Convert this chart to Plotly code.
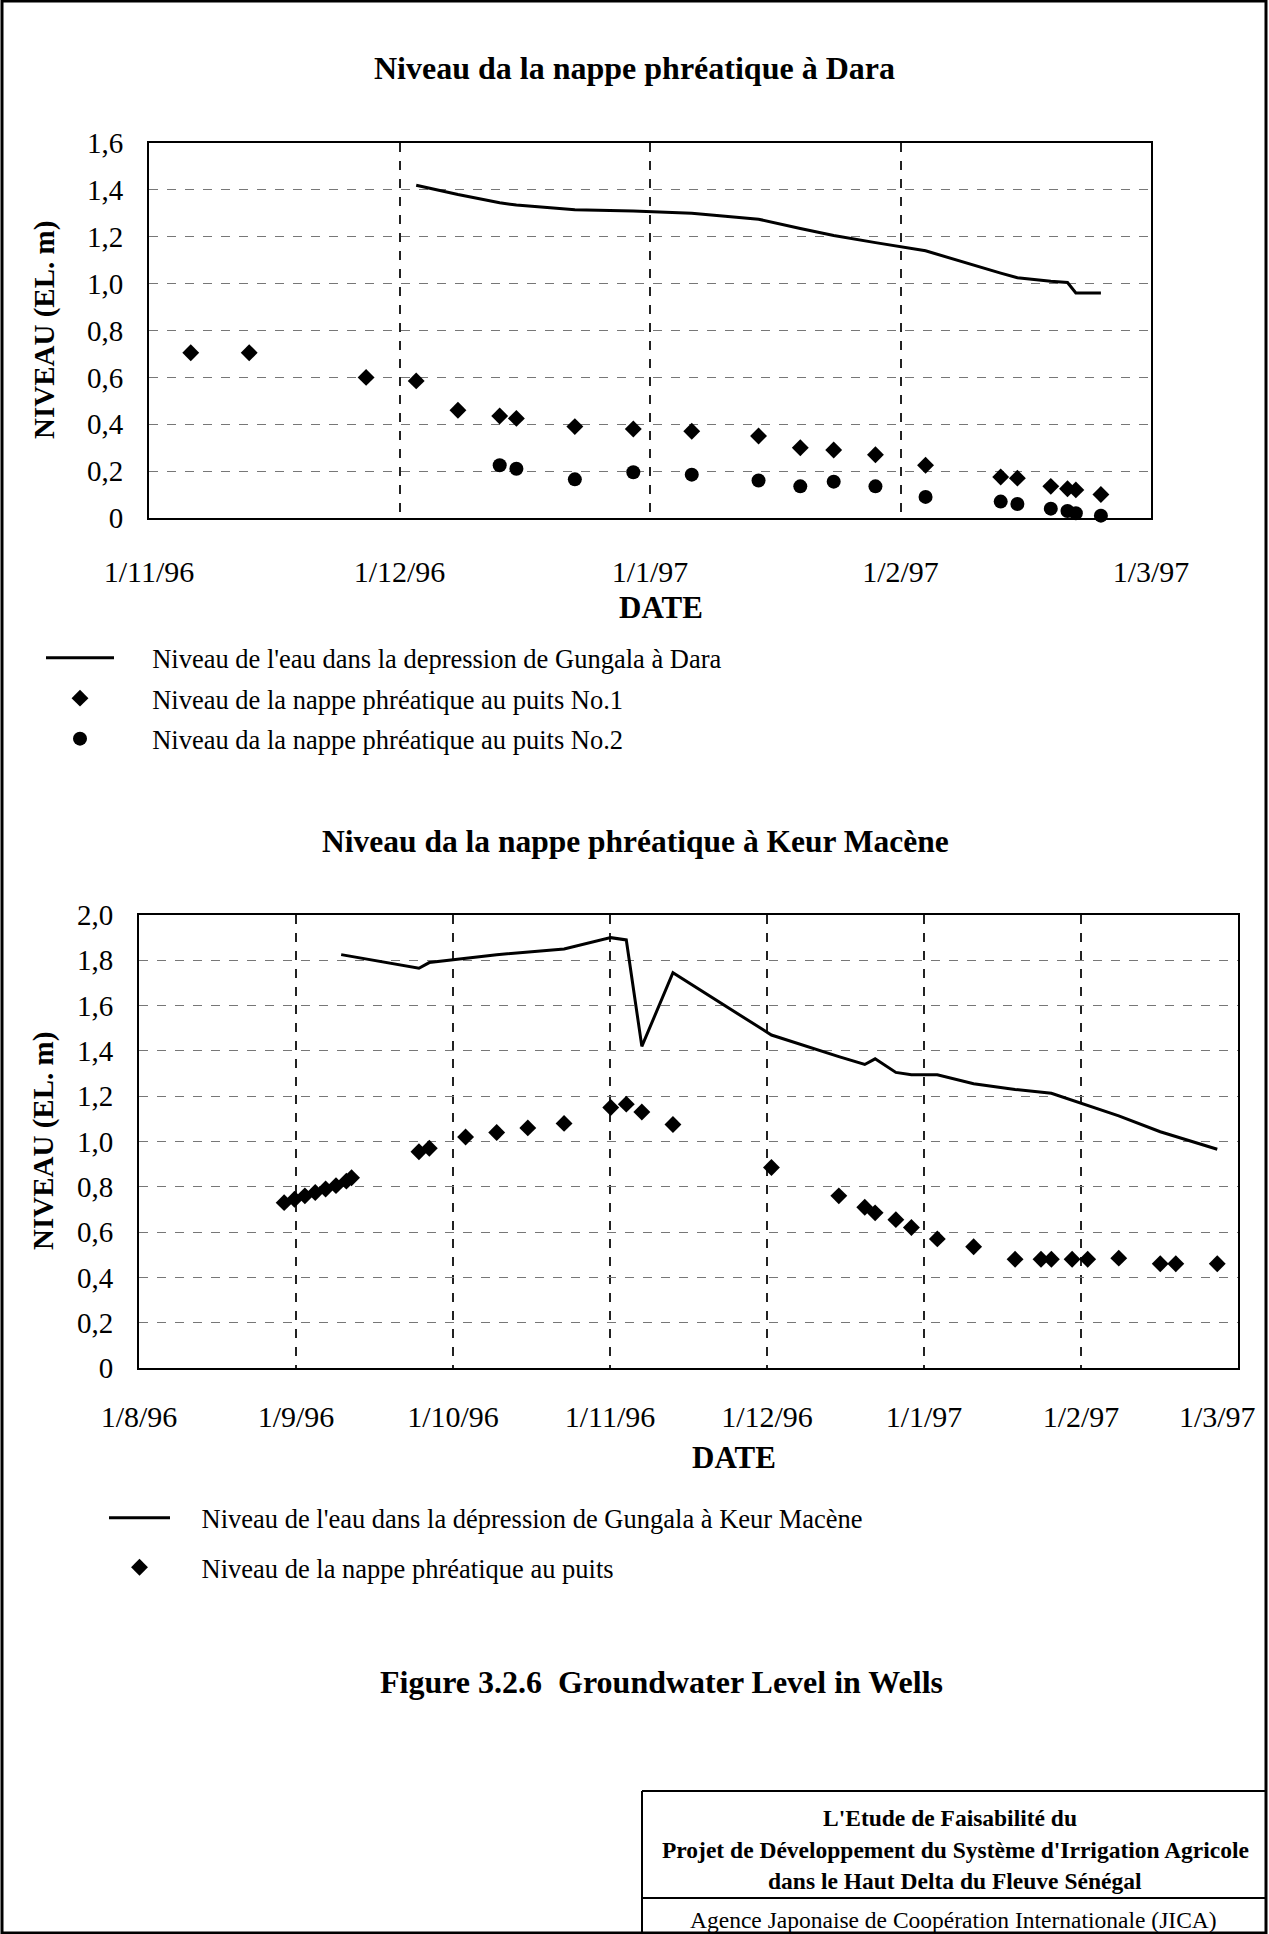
import plotly.graph_objects as go
import pandas as pd

# ---------------- data ----------------
# Dara
dara_line_dates = ["1996-12-03", "1996-12-08", "1996-12-13", "1996-12-15", "1996-12-22", "1996-12-29",
                   "1997-01-05", "1997-01-13", "1997-01-18", "1997-01-22", "1997-01-27", "1997-02-02",
                   "1997-02-11", "1997-02-13", "1997-02-17", "1997-02-19", "1997-02-20", "1997-02-23"]
dara_line_level = [1.42, 1.38, 1.345, 1.335, 1.315, 1.31,
                   1.30, 1.275, 1.235, 1.205, 1.175, 1.14,
                   1.045, 1.025, 1.01, 1.005, 0.96, 0.96]

dara_p1_dates = ["1996-11-06", "1996-11-13", "1996-11-27", "1996-12-03", "1996-12-08", "1996-12-13",
                 "1996-12-15", "1996-12-22", "1996-12-29", "1997-01-05", "1997-01-13", "1997-01-18",
                 "1997-01-22", "1997-01-27", "1997-02-02", "1997-02-11", "1997-02-13", "1997-02-17",
                 "1997-02-19", "1997-02-20", "1997-02-23"]
dara_p1_level = [0.705, 0.705, 0.60, 0.585, 0.46, 0.435,
                 0.425, 0.39, 0.38, 0.37, 0.35, 0.30,
                 0.29, 0.27, 0.225, 0.175, 0.17, 0.135,
                 0.125, 0.12, 0.10]

dara_p2_dates = ["1996-12-13", "1996-12-15", "1996-12-22", "1996-12-29", "1997-01-05", "1997-01-13",
                 "1997-01-18", "1997-01-22", "1997-01-27", "1997-02-02", "1997-02-11", "1997-02-13",
                 "1997-02-17", "1997-02-19", "1997-02-20", "1997-02-23"]
dara_p2_level = [0.225, 0.21, 0.165, 0.195, 0.185, 0.16,
                 0.135, 0.155, 0.135, 0.09, 0.07, 0.06,
                 0.04, 0.03, 0.02, 0.01]

# Keur Macene
km_line_dates = ["1996-09-09", "1996-09-24", "1996-09-26", "1996-10-09", "1996-10-22", "1996-10-31",
                 "1996-11-03", "1996-11-06", "1996-11-12", "1996-12-01", "1996-12-14", "1996-12-19",
                 "1996-12-21", "1996-12-25", "1996-12-28", "1997-01-02", "1997-01-09", "1997-01-17",
                 "1997-01-24", "1997-01-31", "1997-02-06", "1997-02-14", "1997-02-25"]
km_line_level = [1.825, 1.765, 1.79, 1.825, 1.85, 1.90,
                 1.89, 1.42, 1.745, 1.47, 1.375, 1.34,
                 1.365, 1.305, 1.295, 1.295, 1.255, 1.23,
                 1.213, 1.16, 1.113, 1.043, 0.966]

km_puits_dates = ["1996-08-29", "1996-08-31", "1996-09-02", "1996-09-04", "1996-09-06", "1996-09-08",
                  "1996-09-10", "1996-09-11", "1996-09-24", "1996-09-26", "1996-10-03", "1996-10-09",
                  "1996-10-15", "1996-10-22", "1996-10-31", "1996-11-03", "1996-11-06", "1996-11-12",
                  "1996-12-01", "1996-12-14", "1996-12-19", "1996-12-21", "1996-12-25", "1996-12-28",
                  "1997-01-02", "1997-01-09", "1997-01-17", "1997-01-22", "1997-01-24", "1997-01-28",
                  "1997-01-31", "1997-02-06", "1997-02-14", "1997-02-17", "1997-02-25"]
km_puits_level = [0.73, 0.745, 0.76, 0.775, 0.79, 0.805,
                  0.825, 0.84, 0.955, 0.97, 1.02, 1.04,
                  1.06, 1.08, 1.15, 1.165, 1.13, 1.075,
                  0.885, 0.76, 0.71, 0.685, 0.655, 0.62,
                  0.57, 0.535, 0.48, 0.48, 0.48, 0.48,
                  0.48, 0.485, 0.46, 0.46, 0.46]

# axes
dara_x_start, dara_x_end = "1996-11-01", "1997-03-01"
dara_xticks = ["1/11/96", "1/12/96", "1/1/97", "1/2/97", "1/3/97"]
dara_yvals = [0, 0.2, 0.4, 0.6, 0.8, 1.0, 1.2, 1.4, 1.6]
dara_yticks = ["0", "0,2", "0,4", "0,6", "0,8", "1,0", "1,2", "1,4", "1,6"]

km_x_start, km_x_end = "1996-08-01", "1997-03-01"
km_xticks = ["1/8/96", "1/9/96", "1/10/96", "1/11/96", "1/12/96", "1/1/97", "1/2/97", "1/3/97"]
km_yvals = [0, 0.2, 0.4, 0.6, 0.8, 1.0, 1.2, 1.4, 1.6, 1.8, 2.0]
km_yticks = ["0", "0,2", "0,4", "0,6", "0,8", "1,0", "1,2", "1,4", "1,6", "1,8", "2,0"]

# ---------------- layout helpers ----------------
W, H = 1269, 1934
SERIF = "Liberation Serif, Times New Roman, serif"


def fx(px):
    return px / W


def fy(py):
    return 1 - py / H


# evenly spaced grid positions across each date axis
dara_grid = list(pd.date_range(dara_x_start, dara_x_end, periods=len(dara_xticks)))
km_grid = list(pd.date_range(km_x_start, km_x_end, periods=len(km_xticks)))
# the last bottom label sits a little inside the frame, as printed
km_label_pos = km_grid[:-1] + [km_grid[-1] - pd.Timedelta(days=4)]

fig = go.Figure()

line_style = dict(color="black", width=3)
dia = dict(symbol="diamond", size=13, color="black")
circ = dict(symbol="circle", size=14, color="black")
pad_top = "\u00a0" * 5
pad_bot = "\u00a0" * 4

fig.add_trace(go.Scatter(x=dara_line_dates, y=dara_line_level, mode="lines", line=line_style,
                         name=pad_top + "Niveau de l'eau dans la depression de Gungala à Dara",
                         xaxis="x", yaxis="y", legend="legend", legendgroup="a", cliponaxis=False))
fig.add_trace(go.Scatter(x=dara_p1_dates, y=dara_p1_level, mode="markers", marker=dia,
                         name=pad_top + "Niveau de la nappe phréatique au puits No.1",
                         xaxis="x", yaxis="y", legend="legend", legendgroup="b", cliponaxis=False))
fig.add_trace(go.Scatter(x=dara_p2_dates, y=dara_p2_level, mode="markers", marker=circ,
                         name=pad_top + "Niveau da la nappe phréatique au puits No.2",
                         xaxis="x", yaxis="y", legend="legend", legendgroup="c", cliponaxis=False))

fig.add_trace(go.Scatter(x=km_line_dates, y=km_line_level, mode="lines", line=line_style,
                         name=pad_bot + "Niveau de l'eau dans la dépression de Gungala à Keur Macène",
                         xaxis="x2", yaxis="y2", legend="legend2", legendgroup="d", cliponaxis=False))
fig.add_trace(go.Scatter(x=km_puits_dates, y=km_puits_level, mode="markers", marker=dia,
                         name=pad_bot + "Niveau de la nappe phréatique au puits",
                         xaxis="x2", yaxis="y2", legend="legend2", legendgroup="e", cliponaxis=False))

xtickfont = dict(family=SERIF, size=30, color="black")
ytickfont = dict(family=SERIF, size=29, color="black")
vgrid = dict(showgrid=True, gridcolor="#222", griddash="dash", gridwidth=1.5, ticks="")
common_x = dict(type="date", showgrid=False, automargin=False,
                showline=True, linecolor="black", linewidth=2, mirror=True, ticks="",
                tickfont=xtickfont, zeroline=False, fixedrange=True)
common_y = dict(showgrid=True, gridcolor="#777", griddash="dash", gridwidth=1, automargin=False,
                showline=True, linecolor="black", linewidth=2, mirror=True, ticks="",
                tickfont=ytickfont, ticklabelstandoff=18, zeroline=False, fixedrange=True)

fig.update_layout(
    width=W, height=H, margin=dict(l=0, r=0, t=0, b=0, pad=0, autoexpand=False),
    paper_bgcolor="white", plot_bgcolor="white",
    font=dict(family=SERIF, color="black"),
    xaxis=dict(common_x, domain=[fx(149), fx(1151)], anchor="y",
               range=[dara_x_start, dara_x_end], ticklabelstandoff=26,
               tickvals=dara_grid, ticktext=dara_xticks,
               minor=dict(vgrid, tickmode="array", tickvals=dara_grid)),
    yaxis=dict(common_y, domain=[fy(518), fy(143)], anchor="x", range=[0, 1.6],
               tickvals=dara_yvals, ticktext=dara_yticks),
    xaxis2=dict(common_x, domain=[fx(139), fx(1238)], anchor="y2",
                range=[km_x_start, km_x_end], ticklabelstandoff=21,
                tickvals=km_label_pos, ticktext=km_xticks,
                minor=dict(vgrid, tickmode="array", tickvals=km_grid)),
    yaxis2=dict(common_y, domain=[fy(1368), fy(915)], anchor="x2", range=[0, 2.0],
                tickvals=km_yvals, ticktext=km_yticks),
    legend=dict(x=fx(41), y=fy(634), xanchor="left", yanchor="top", itemwidth=68,
                font=dict(family=SERIF, size=26.5, color="black"), bgcolor="rgba(0,0,0,0)",
                tracegroupgap=3, traceorder="grouped"),
    legend2=dict(x=fx(104), y=fy(1494), xanchor="left", yanchor="top", itemwidth=61,
                 font=dict(family=SERIF, size=26.5, color="black"), bgcolor="rgba(0,0,0,0)",
                 tracegroupgap=12, traceorder="grouped"),
    showlegend=True,
)


def txt(text, x, y, size, bold=False, angle=0):
    return dict(text=("<b>%s</b>" % text) if bold else text, x=fx(x), y=fy(y), xref="paper", yref="paper",
                xanchor="center", yanchor="middle", showarrow=False, textangle=angle,
                font=dict(family=SERIF, size=size, color="black"))


fig.update_layout(annotations=[
    txt("Niveau da la nappe phréatique à Dara", 634, 68, 32, bold=True),
    txt("NIVEAU (EL. m)", 44, 330, 29, bold=True, angle=-90),
    txt("DATE", 661, 607, 31, bold=True),
    txt("Niveau da la nappe phréatique à Keur Macène", 636, 841, 31.5, bold=True),
    txt("NIVEAU (EL. m)", 43, 1141, 29, bold=True, angle=-90),
    txt("DATE", 734, 1457, 31, bold=True),
    txt("Figure 3.2.6  Groundwater Level in Wells", 661, 1682, 32, bold=True),
    txt("L'Etude de Faisabilité du", 950, 1818, 23.5, bold=True),
    txt("Projet de Développement du Système d'Irrigation Agricole", 955, 1850, 23.5, bold=True),
    txt("dans le Haut Delta du Fleuve Sénégal", 955, 1881, 23.5, bold=True),
    txt("Agence Japonaise de Coopération Internationale (JICA)", 953, 1920, 23.5),
])


def seg(x0, y0, x1, y1, w=2):
    return dict(type="line", xref="paper", yref="paper", x0=fx(x0), y0=fy(y0), x1=fx(x1), y1=fy(y1),
                line=dict(color="black", width=w))


fig.update_layout(shapes=[
    dict(type="rect", xref="paper", yref="paper", x0=fx(2), y0=fy(1933), x1=fx(1266), y1=fy(1),
         line=dict(color="black", width=3)),
    seg(642, 1791, 1266, 1791, 2),
    seg(642, 1898, 1266, 1898, 2),
    seg(642, 1791, 642, 1934, 2),
])

fig.write_html("out.html", config={"displayModeBar": False},
               post_script="document.body.style.margin='0';document.body.style.overflow='hidden';")
